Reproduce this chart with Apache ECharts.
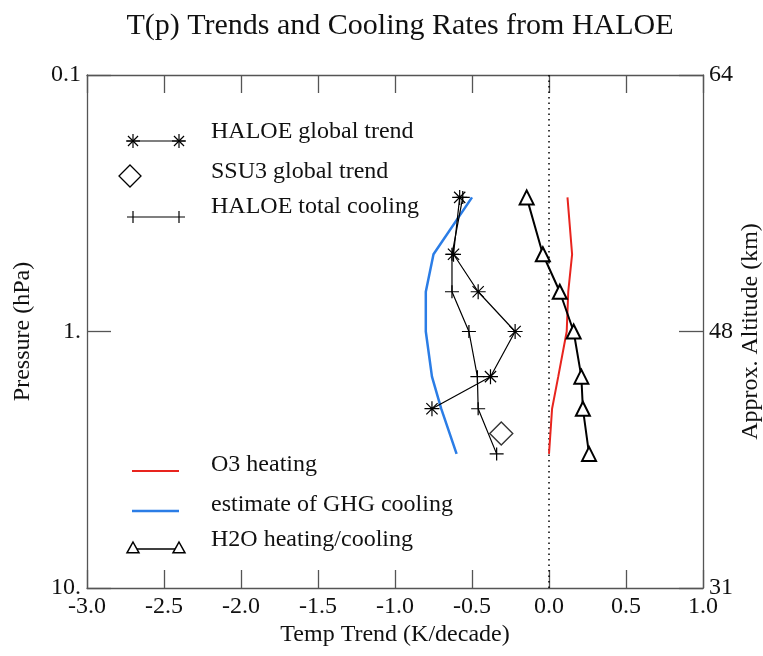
<!DOCTYPE html>
<html>
<head>
<meta charset="utf-8">
<script src="https://cdn.jsdelivr.net/npm/echarts@6/dist/echarts.min.js"></script>
<style>html,body{margin:0;padding:0;background:#fff;}#c{width:763px;height:656px;}</style>
</head>
<body>
<div id="c"></div>
<script>
// ---- data ----
var pressures = [0.3, 0.5, 0.7, 1.0, 1.5, 2.0, 3.0];
var haloeTrendP = [0.3, 0.5, 0.7, 1.0, 1.5, 2.0];
var haloeTrend = [-0.58, -0.62, -0.46, -0.22, -0.38, -0.76];
var haloeTotalCooling = [-0.56, -0.63, -0.63, -0.52, -0.465, -0.46, -0.34];
var ssu3P = [2.5];
var ssu3Trend = [-0.31];
var ghgCooling = [-0.50, -0.75, -0.80, -0.80, -0.76, -0.70, -0.60];
var o3Heating = [0.12, 0.15, 0.125, 0.115, 0.06, 0.02, 0.0];
var h2oHeating = [-0.145, -0.04, 0.07, 0.16, 0.21, 0.22, 0.26];
var pTickLabels = {0.1: '0.1', 1: '1.', 10: '10.'};
var altTickLabels = {0.1: '64', 1: '48', 10: '31'};
var zeroLineX = [0, 0];
var zeroLineP = [0.1, 10];

function pairs(xs, ps) { return xs.map(function (v, i) { return [v, ps[i]]; }); }

var SERIF = '"Liberation Serif", "DejaVu Serif", serif';
var FS = 24;
var AX = '#555';
var BLUE = '#2b7de6';
var RED = '#e8241e';
var ASTER = 'path://M0,-10L0,10M-10,0L10,0M-7.5,-7.5L7.5,7.5M-7.5,7.5L7.5,-7.5';
var PLUS = 'path://M0,-10L0,10M-10,0L10,0';

var chart = echarts.init(document.getElementById('c'), null, {renderer: 'canvas'});

function keyOf(v) {
  var k = Math.round(Math.log10(v) * 1000) / 1000;
  return k === -1 ? 0.1 : (k === 0 ? 1 : (k === 1 ? 10 : null));
}

// legend graphics
function asteriskG(cx, cy, r) {
  var d = r * 0.72;
  return [
    [cx - r, cy, cx + r, cy], [cx, cy - r, cx, cy + r],
    [cx - d, cy - d, cx + d, cy + d], [cx - d, cy + d, cx + d, cy - d]
  ].map(function (s) {
    return {type: 'line', shape: {x1: s[0], y1: s[1], x2: s[2], y2: s[3]}, style: {stroke: '#000', lineWidth: 1.2}};
  });
}
function vtick(cx, cy, rh) {
  return {type: 'line', shape: {x1: cx, y1: cy - rh, x2: cx, y2: cy + rh}, style: {stroke: '#000', lineWidth: 1.2}};
}
function triG(cx, cy, r) {
  return {type: 'polygon', shape: {points: [[cx, cy - r], [cx + r, cy + r * 0.8], [cx - r, cy + r * 0.8]]},
    style: {fill: '#fff', stroke: '#000', lineWidth: 1.5}};
}
function txt(x, y, s) {
  return {type: 'text', x: x, y: y, style: {text: s, font: FS + 'px ' + SERIF, fill: '#111', verticalAlign: 'middle'}};
}
function lineG(x1, y1, x2, y2, color, w) {
  return {type: 'line', shape: {x1: x1, y1: y1, x2: x2, y2: y2}, style: {stroke: color, lineWidth: w}};
}

var g = [];
g.push(lineG(127, 141, 185, 141, '#000', 1.2));
g = g.concat(asteriskG(133, 141, 7), asteriskG(179, 141, 7));
g.push(txt(211, 132, 'HALOE global trend'));
g.push({type: 'polygon', shape: {points: [[130, 165], [141, 176], [130, 187], [119, 176]]}, style: {fill: 'none', stroke: '#000', lineWidth: 1.3}});
g.push(txt(211, 172, 'SSU3 global trend'));
g.push(lineG(127, 217, 185, 217, '#000', 1.2));
g.push(vtick(133, 217, 6), vtick(179, 217, 6));
g.push(txt(211, 207, 'HALOE total cooling'));
g.push(lineG(132, 471, 179, 471, RED, 2));
g.push(txt(211, 465, 'O3 heating'));
g.push(lineG(132, 511, 179, 511, BLUE, 2.5));
g.push(txt(211, 505, 'estimate of GHG cooling'));
g.push(lineG(133, 549, 179, 549, '#000', 1.5));
g.push(triG(133, 548, 6), triG(179, 548, 6));
g.push(txt(211, 540, 'H2O heating/cooling'));

function axisCommon() {
  return {
    axisLine: {show: true, onZero: false, lineStyle: {color: AX, width: 1.3}},
    splitLine: {show: false},
    nameMoveOverlap: false
  };
}

var option = {
  animation: false,
  backgroundColor: '#fff',
  title: {
    text: 'T(p) Trends and Cooling Rates from HALOE',
    left: 395, textAlign: 'center', top: 6,
    textStyle: {fontFamily: SERIF, fontSize: 30, fontWeight: 'normal', color: '#111'}
  },
  grid: {left: 87, right: 60, top: 75, bottom: 68, containLabel: false, outerBoundsMode: 'none'},
  xAxis: [Object.assign(axisCommon(), {
    type: 'value', min: -3, max: 1, interval: 0.5, position: 'bottom',
    name: 'Temp Trend (K/decade)', nameLocation: 'middle', nameGap: 35,
    nameTextStyle: {fontFamily: SERIF, fontSize: FS, color: '#111'},
    axisTick: {show: true, inside: true, length: 18, lineStyle: {color: AX, width: 1.3}},
    axisLabel: {fontFamily: SERIF, fontSize: FS, color: '#111', margin: 7,
      formatter: function (v) { return v.toFixed(1); }}
  }), Object.assign(axisCommon(), {
    type: 'value', min: -3, max: 1, interval: 0.5, position: 'top',
    axisTick: {show: true, inside: true, length: 18, lineStyle: {color: AX, width: 1.3}},
    axisLabel: {show: false}
  })],
  yAxis: [Object.assign(axisCommon(), {
    type: 'log', logBase: 10, min: 0.1, max: 10, inverse: true, position: 'left',
    name: 'Pressure (hPa)', nameLocation: 'middle', nameGap: 52, nameRotate: 90,
    nameTextStyle: {fontFamily: SERIF, fontSize: FS, color: '#111'},
    axisTick: {show: true, inside: true, length: 24, lineStyle: {color: AX, width: 1.3}},
    minorTick: {show: false},
    axisLabel: {fontFamily: SERIF, fontSize: FS, color: '#111', margin: 6,
      formatter: function (v) { var k = keyOf(v); return k ? pTickLabels[k] : ''; }}
  }), Object.assign(axisCommon(), {
    type: 'log', logBase: 10, min: 0.1, max: 10, inverse: true, position: 'right',
    name: 'Approx. Altitude (km)', nameLocation: 'middle', nameGap: 36, nameRotate: 90,
    nameTextStyle: {fontFamily: SERIF, fontSize: FS, color: '#111'},
    axisTick: {show: true, inside: true, length: 24, lineStyle: {color: AX, width: 1.3}},
    axisLabel: {fontFamily: SERIF, fontSize: FS, color: '#111', margin: 6,
      formatter: function (v) { var k = keyOf(v); return k ? altTickLabels[k] : ''; }}
  })],
  series: [
    {
      name: 'zero', type: 'line', data: pairs(zeroLineX, zeroLineP), symbol: 'none',
      lineStyle: {color: '#000', width: 1.5, type: [1.5, 4]}, silent: true
    },
    {
      name: 'estimate of GHG cooling', type: 'line', data: pairs(ghgCooling, pressures),
      symbol: 'none', lineStyle: {color: BLUE, width: 2.5}
    },
    {
      name: 'O3 heating', type: 'line', data: pairs(o3Heating, pressures),
      symbol: 'none', lineStyle: {color: RED, width: 2}
    },
    {
      name: 'HALOE global trend', type: 'line', data: pairs(haloeTrend, haloeTrendP),
      symbol: ASTER, symbolSize: 15,
      itemStyle: {color: '#000', borderColor: '#000', borderWidth: 1.2},
      lineStyle: {color: '#000', width: 1.2}
    },
    {
      name: 'HALOE total cooling', type: 'line', data: pairs(haloeTotalCooling, pressures),
      symbol: PLUS, symbolSize: [14, 13],
      itemStyle: {color: '#000', borderColor: '#000', borderWidth: 1.2},
      lineStyle: {color: '#000', width: 1.2}
    },
    {
      name: 'SSU3 global trend', type: 'scatter', data: pairs(ssu3Trend, ssu3P),
      symbol: 'diamond', symbolSize: 23,
      itemStyle: {color: 'rgba(0,0,0,0)', borderColor: '#000', borderWidth: 1.4}
    },
    {
      name: 'H2O heating/cooling', type: 'line', data: pairs(h2oHeating, pressures),
      symbol: 'emptyTriangle', symbolSize: 14,
      itemStyle: {color: '#000', borderColor: '#000', borderWidth: 1.5},
      lineStyle: {color: '#000', width: 2}
    }
  ],
  graphic: g
};
chart.setOption(option);
</script>
</body>
</html>
